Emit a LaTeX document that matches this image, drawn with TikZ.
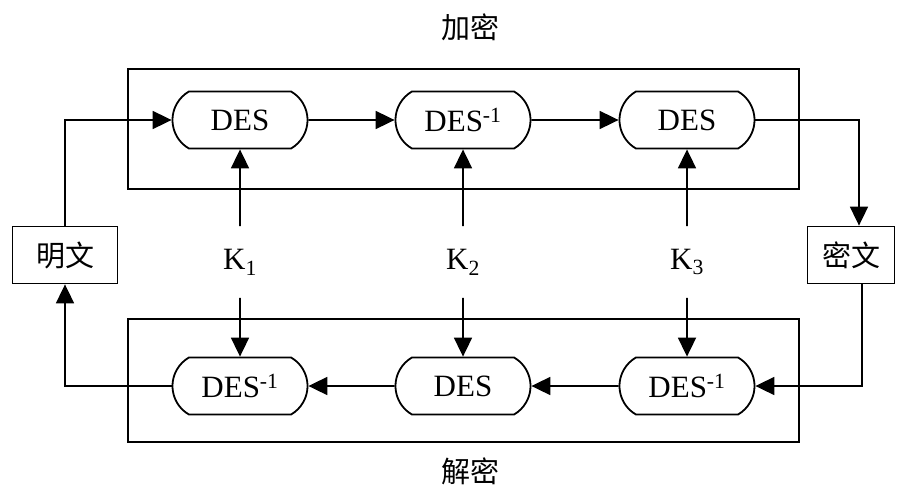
\documentclass[tikz,border=0pt]{standalone}
\usepackage{fontspec}
\setmainfont{Liberation Serif}
\newfontfamily\cjk{Noto Sans CJK SC}
\usetikzlibrary{shapes.misc,arrows.meta}
\begin{document}
\begin{tikzpicture}[x=1pt,y=-1pt,
  line width=1.8pt,
  desbox/.style={rounded rectangle, rounded rectangle arc length=120, draw,
    minimum width=135pt, minimum height=57pt, inner sep=0pt,
    font=\fontsize{31}{34}\selectfont},
  txtbox/.style={draw, minimum height=57pt, inner sep=0pt,
    font=\cjk\fontsize{29}{32}\selectfont},
  keylab/.style={minimum height=70pt, inner sep=0pt,
    font=\fontsize{31}{34}\selectfont},
  title/.style={font=\cjk\fontsize{29}{32}\selectfont},
  arr/.style={-{Triangle[length=19pt,width=18pt]}},
  frame/.style={draw}]
\useasboundingbox (0,0) rectangle (903,488);
\fill[white] (0,0) rectangle (903,488);
% frames
\draw[frame] (128,69) rectangle (799,189);
\draw[frame] (128,319) rectangle (799,442);
% titles
\node[title] (tenc) at (470,27) {加密};
\node[title] (tdec) at (470,471) {解密};
% DES nodes
\node[desbox] (d1) at (240,120) {DES};
\node[desbox] (d2) at (463,120) {DES\textsuperscript{-1}};
\node[desbox] (d3) at (687,120) {DES};
\node[desbox] (e1) at (240,386) {DES\textsuperscript{-1}};
\node[desbox] (e2) at (463,386) {DES};
\node[desbox] (e3) at (687,386) {DES\textsuperscript{-1}};
% plaintext / ciphertext
\node[txtbox, minimum width=105pt] (p) at (65,255) {明文};
\node[txtbox, minimum width=87pt] (c) at (851,255) {密文};
% keys
\node[keylab] (k1) at (240,262) {K\textsubscript{1}};
\node[keylab] (k2) at (463,262) {K\textsubscript{2}};
\node[keylab] (k3) at (687,262) {K\textsubscript{3}};
% connectors
\draw[arr] (p.north) |- (d1.west);
\draw[arr] (d1) -- (d2);
\draw[arr] (d2) -- (d3);
\draw[arr] (d3.east) -| ([xshift=8pt]c.north);
\draw[arr] ([xshift=11pt]c.south) |- (e3.east);
\draw[arr] (e3) -- (e2);
\draw[arr] (e2) -- (e1);
\draw[arr] (e1.west) -| (p.south);
\draw[arr] (k1) -- (d1);
\draw[arr] (k1) -- (e1);
\draw[arr] (k2) -- (d2);
\draw[arr] (k2) -- (e2);
\draw[arr] (k3) -- (d3);
\draw[arr] (k3) -- (e3);
\end{tikzpicture}
\end{document}
